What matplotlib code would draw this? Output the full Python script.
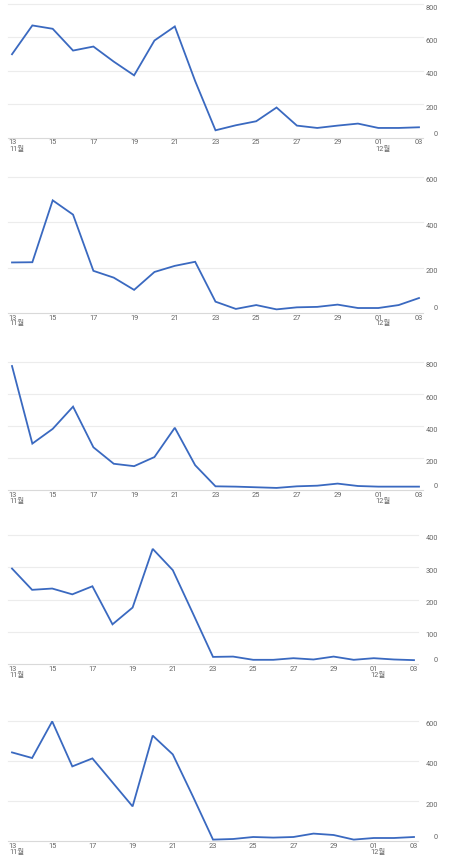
import matplotlib
matplotlib.use("Agg")
import matplotlib.pyplot as plt

plt.rcParams['font.family'] = ['Roboto', 'Noto Sans CJK KR', 'DejaVu Sans']

# ---- data ----
day_labels = ["13", "14", "15", "16", "17", "18", "19", "20", "21", "22", "23",
              "24", "25", "26", "27", "28", "29", "30", "01", "02", "03"]
month_labels = {0: "11월", 18: "12월"}

series1 = [500, 672, 652, 522, 546, 456, 374, 582, 666, 340, 46,
           76, 100, 182, 74, 60, 74, 86, 60, 60, 64]
series2 = [223, 224, 497, 434, 186, 156, 102, 181, 208, 226, 50,
           18, 35, 16, 25, 27, 37, 22, 22, 35, 66]
series3 = [775, 290, 382, 521, 267, 164, 149, 206, 389, 155, 23,
           21, 17, 13, 23, 27, 40, 25, 21, 21, 21]
series4 = [296, 230, 234, 216, 241, 123, 175, 357, 291, 157, 22,
           23, 13, 13, 18, 14, 23, 13, 18, 14, 12]
series5 = [443, 415, 598, 373, 413, 293, 173, 527, 433, 223, 7,
           10, 20, 17, 20, 37, 30, 7, 15, 15, 20]

all_series = [series1, series2, series3, series4, series5]
y_max = [800, 600, 800, 400, 600]
y_step = [200, 200, 200, 100, 200]

# ---- layout (pixels) ----
W, H = 450, 863
panel_top = [4, 177, 362, 535, 721]
panel_bottom = [138, 313, 490, 664, 841]
panel_right = [423, 423, 423, 418, 418]
left_px = 8
label_right_px = 438

line_color = '#3a69c0'
grid_color = '#ececec'
base_color = '#d9d9d9'
text_color = '#666666'
fs = 5.3

fig = plt.figure(figsize=(W / 100, H / 100), dpi=100)
fig.patch.set_facecolor('white')

n = len(day_labels)
for k, data in enumerate(all_series):
    top, bot, right = panel_top[k], panel_bottom[k], panel_right[k]
    wpx = right - left_px
    hpx = bot - top
    ax = fig.add_axes([left_px / W, 1 - bot / H, wpx / W, hpx / H])
    px_per_day = (wpx - 8) / (n - 1)
    pad = 4 / px_per_day
    ax.set_xlim(-pad, n - 1 + pad)
    ax.set_ylim(0, y_max[k])
    for s in ax.spines.values():
        s.set_visible(False)
    ax.set_xticks([])
    ax.set_yticks([])
    ax.patch.set_alpha(0)

    yt = list(range(0, y_max[k] + 1, y_step[k]))
    for v in yt:
        ax.axhline(v, color=base_color if v == 0 else grid_color,
                   lw=0.8, zorder=0, clip_on=False)
        ax.annotate(str(v), xy=((label_right_px - left_px) / wpx, v),
                    xycoords=ax.get_yaxis_transform(),
                    xytext=(0, 4 if v == 0 else -4), textcoords='offset pixels',
                    ha='right', va='center', fontsize=fs, color=text_color)

    ax.plot(range(n), data, color=line_color, lw=1.3, clip_on=False,
            solid_joinstyle='miter', zorder=3)

    for i in range(0, n, 2):
        ax.annotate(day_labels[i], xy=(i, 0), xycoords=ax.get_xaxis_transform(),
                    xytext=(0, -5), textcoords='offset pixels',
                    ha='center', va='center', fontsize=fs, color=text_color)
        if i in month_labels:
            ax.annotate(month_labels[i], xy=(i, 0), xycoords=ax.get_xaxis_transform(),
                        xytext=(-3, -11), textcoords='offset pixels',
                        ha='left', va='center', fontsize=fs, color=text_color)

fig.savefig('out.png', dpi=100, facecolor='white')
